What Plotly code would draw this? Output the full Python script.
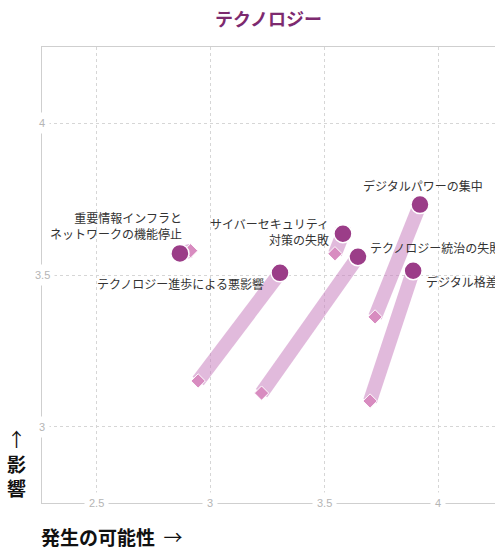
import plotly.graph_objects as go

# Technology risks: previous position (start) -> current position (end)
risks = [
    "重要情報インフラと<br>ネットワークの機能停止",
    "テクノロジー進歩による悪影響",
    "サイバーセキュリティ<br>対策の失敗",
    "テクノロジー統治の失敗",
    "デジタルパワーの集中",
    "デジタル格差",
]
start_likelihood = [2.913, 2.946, 3.546, 3.224, 3.722, 3.700]
start_impact = [3.580, 3.151, 3.570, 3.111, 3.362, 3.085]
end_likelihood = [2.866, 3.305, 3.581, 3.647, 3.919, 3.889]
end_impact = [3.571, 3.507, 3.636, 3.560, 3.732, 3.514]

x_ticks = [2.5, 3, 3.5, 4]
x_tick_text = ["2.5", "3", "3.5", "4"]
y_ticks = [3, 3.5, 4]
y_tick_text = ["3", "3.5", "4"]

# label placement per risk: (xanchor, yanchor, xshift, yshift, align)
label_pos = [
    ("right", "bottom", 4, 9, "right"),
    ("right", "middle", -14, -11, "right"),
    ("right", "middle", -12, 2, "right"),
    ("left", "middle", 10, 9, "left"),
    ("center", "bottom", 3, 9, "center"),
    ("left", "middle", 11, -11, "left"),
]

CJK = "Noto Sans CJK JP"
LINE_COLOR = "rgba(200,130,192,0.55)"
END_COLOR = "#9b3d88"
START_COLOR = "#d88cc0"

fig = go.Figure()

for i in range(len(risks)):
    fig.add_trace(go.Scatter(
        x=[start_likelihood[i], end_likelihood[i]],
        y=[start_impact[i], end_impact[i]],
        mode="lines",
        line=dict(color=LINE_COLOR, width=14),
        hoverinfo="skip",
        showlegend=False,
    ))

fig.add_trace(go.Scatter(
    x=start_likelihood, y=start_impact, mode="markers",
    marker=dict(symbol="diamond", size=11, color=START_COLOR,
                line=dict(color="white", width=1)),
    showlegend=False, hoverinfo="skip",
))
fig.add_trace(go.Scatter(
    x=end_likelihood, y=end_impact, mode="markers",
    marker=dict(symbol="circle", size=18, color=END_COLOR,
                line=dict(color="white", width=1.5)),
    text=risks, hoverinfo="text", showlegend=False,
))

annotations = []
for i, name in enumerate(risks):
    xa, ya, xs, ys, al = label_pos[i]
    annotations.append(dict(
        x=end_likelihood[i], y=end_impact[i], xref="x", yref="y",
        text=name, showarrow=False, xanchor=xa, yanchor=ya,
        xshift=xs, yshift=ys, align=al,
        font=dict(family=CJK, size=12, color="#333333"),
    ))

# tick labels sitting on the axis lines
for v, t in zip(x_ticks, x_tick_text):
    annotations.append(dict(
        x=v, y=0, xref="x", yref="paper", text=t, showarrow=False,
        xanchor="center", yanchor="middle", bgcolor="white", borderpad=4,
        font=dict(family="Liberation Sans", size=11, color="#b5b5b5"),
    ))
for v, t in zip(y_ticks, y_tick_text):
    annotations.append(dict(
        x=0, y=v, xref="paper", yref="y", text=t, showarrow=False,
        xanchor="center", yanchor="middle", bgcolor="white", borderpad=4,
        font=dict(family="Liberation Sans", size=11, color="#b5b5b5"),
    ))

# title and axis titles
annotations.append(dict(
    x=0.5, y=1, xref="paper", yref="paper", yshift=29, text="<b>テクノロジー</b>",
    showarrow=False, xanchor="center", yanchor="middle",
    font=dict(family=CJK, size=18, color="#7d2a6f"),
))
annotations.append(dict(
    x=0, y=0, xref="paper", yref="paper", xshift=-3, yshift=-33,
    text="<b>発生の可能性</b>  →",
    showarrow=False, xanchor="left", yanchor="middle",
    font=dict(family=CJK, size=19, color="#111111"),
))
annotations.append(dict(
    x=0, y=0, xref="paper", yref="paper", xshift=-26, text="↑<br><b>影<br>響</b>",
    showarrow=False, xanchor="center", yanchor="bottom",
    font=dict(family=CJK, size=19, color="#111111"),
))

fig.update_layout(
    width=495, height=549,
    margin=dict(l=42, r=0, t=47, b=46),
    plot_bgcolor="white", paper_bgcolor="white",
    annotations=annotations,
    xaxis=dict(
        range=[2.261, 4.248], tickvals=x_ticks, showticklabels=False,
        showgrid=True, gridcolor="#d6d6d6", griddash="dot", gridwidth=1,
        showline=True, linecolor="#cfcfcf", linewidth=1, mirror=True,
        zeroline=False, ticks="",
    ),
    yaxis=dict(
        range=[2.749, 4.251], tickvals=y_ticks, showticklabels=False,
        showgrid=True, gridcolor="#d6d6d6", griddash="dot", gridwidth=1,
        showline=True, linecolor="#cfcfcf", linewidth=1,
        zeroline=False, ticks="",
    ),
)

fig.write_html("out.html")
